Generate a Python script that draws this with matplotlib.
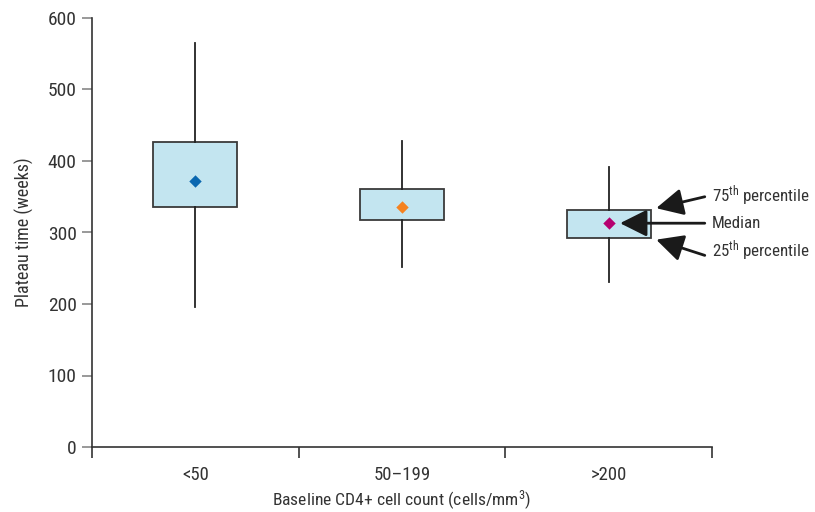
import matplotlib
matplotlib.use("Agg")
import matplotlib.pyplot as plt
from matplotlib import font_manager

names = {f.name for f in font_manager.fontManager.ttflist}
fam = [n for n in ["Liberation Sans Narrow", "Roboto Condensed", "DejaVu Sans Condensed", "Liberation Sans"] if n in names]
plt.rcParams['font.family'] = fam + ["DejaVu Sans"]
if fam:
    plt.rcParams['mathtext.fontset'] = 'custom'
    plt.rcParams['mathtext.rm'] = fam[0]
    plt.rcParams['mathtext.it'] = fam[0]
    plt.rcParams['mathtext.bf'] = fam[0]

categories = ["<50", "50\u2013199", ">200"]
q1 = [335, 318, 292]
q3 = [426, 361, 331]
medians = [372, 336, 313]
whis_lo = [196, 252, 231]
whis_hi = [565, 428, 392]
marker_colors = ["#0a67b0", "#f5821f", "#b5006f"]

fig = plt.figure(figsize=(8.15, 5.12), dpi=100)
ax = fig.add_axes([92/815, 65/512, 620/815, 429/512])

stats = []
for i, c in enumerate(categories):
    stats.append(dict(label=c, med=medians[i], q1=q1[i], q3=q3[i],
                      whislo=whis_lo[i], whishi=whis_hi[i], fliers=[]))
pos = [0.5, 1.5, 2.5]
ax.bxp(stats, positions=pos, widths=0.405, patch_artist=True, showcaps=False,
       showfliers=False,
       boxprops=dict(facecolor="#c3e5f0", edgecolor="#3a3a3a", linewidth=1.3),
       whiskerprops=dict(color="#222222", linewidth=1.3),
       medianprops=dict(linewidth=0))
for i in range(3):
    ax.scatter([pos[i]], [medians[i]], marker="D", s=40, color=marker_colors[i], zorder=5, linewidths=0)

ax.set_xlim(0, 3)
ax.set_ylim(0, 600)
ax.set_yticks([0, 100, 200, 300, 400, 500, 600])
ax.set_xticks([0, 1, 2, 3])
ax.set_xticklabels([])
ax.set_xticks(pos, minor=True)
ax.set_xticklabels(categories, minor=True)
ax.tick_params(axis="x", which="major", direction="out", length=8, width=1.2, color="#333333")
ax.tick_params(axis="x", which="minor", length=0, pad=14, labelsize=13.5, labelcolor="#333333")
ax.tick_params(axis="y", direction="out", length=7, width=1.2, color="#888888", labelsize=14, labelcolor="#333333", pad=4)
for s in ["top", "right"]:
    ax.spines[s].set_visible(False)
ax.spines["left"].set_color("#333333")
ax.spines["bottom"].set_color("#333333")
ax.spines["left"].set_linewidth(1.2)
ax.spines["bottom"].set_linewidth(1.2)

ax.set_ylabel("Plateau time (weeks)", fontsize=13, color="#333333", labelpad=10)
ax.set_xlabel("Baseline CD4+ cell count (cells/mm$^{3}$)", fontsize=12.6, color="#333333", labelpad=3)

ap = dict(arrowstyle="-|>,head_length=1.1,head_width=0.55", color="#1a1a1a", lw=2.0, mutation_scale=15, shrinkA=0, shrinkB=0)
ax.annotate("", xy=(2.73, 334), xytext=(2.965, 350), arrowprops=ap, annotation_clip=False)
ax.annotate("", xy=(2.555, 313), xytext=(2.965, 313), arrowprops=ap, annotation_clip=False)
ax.annotate("", xy=(2.73, 290), xytext=(2.965, 268), arrowprops=ap, annotation_clip=False)
tk = dict(fontsize=12.2, color="#333333", va="center", ha="left", clip_on=False)
ax.text(3.0, 352, "75$^{\\mathrm{th}}$ percentile", **tk)
ax.text(3.0, 313, "Median", **tk)
ax.text(3.0, 275, "25$^{\\mathrm{th}}$ percentile", **tk)

fig.savefig("out.png", dpi=100)
